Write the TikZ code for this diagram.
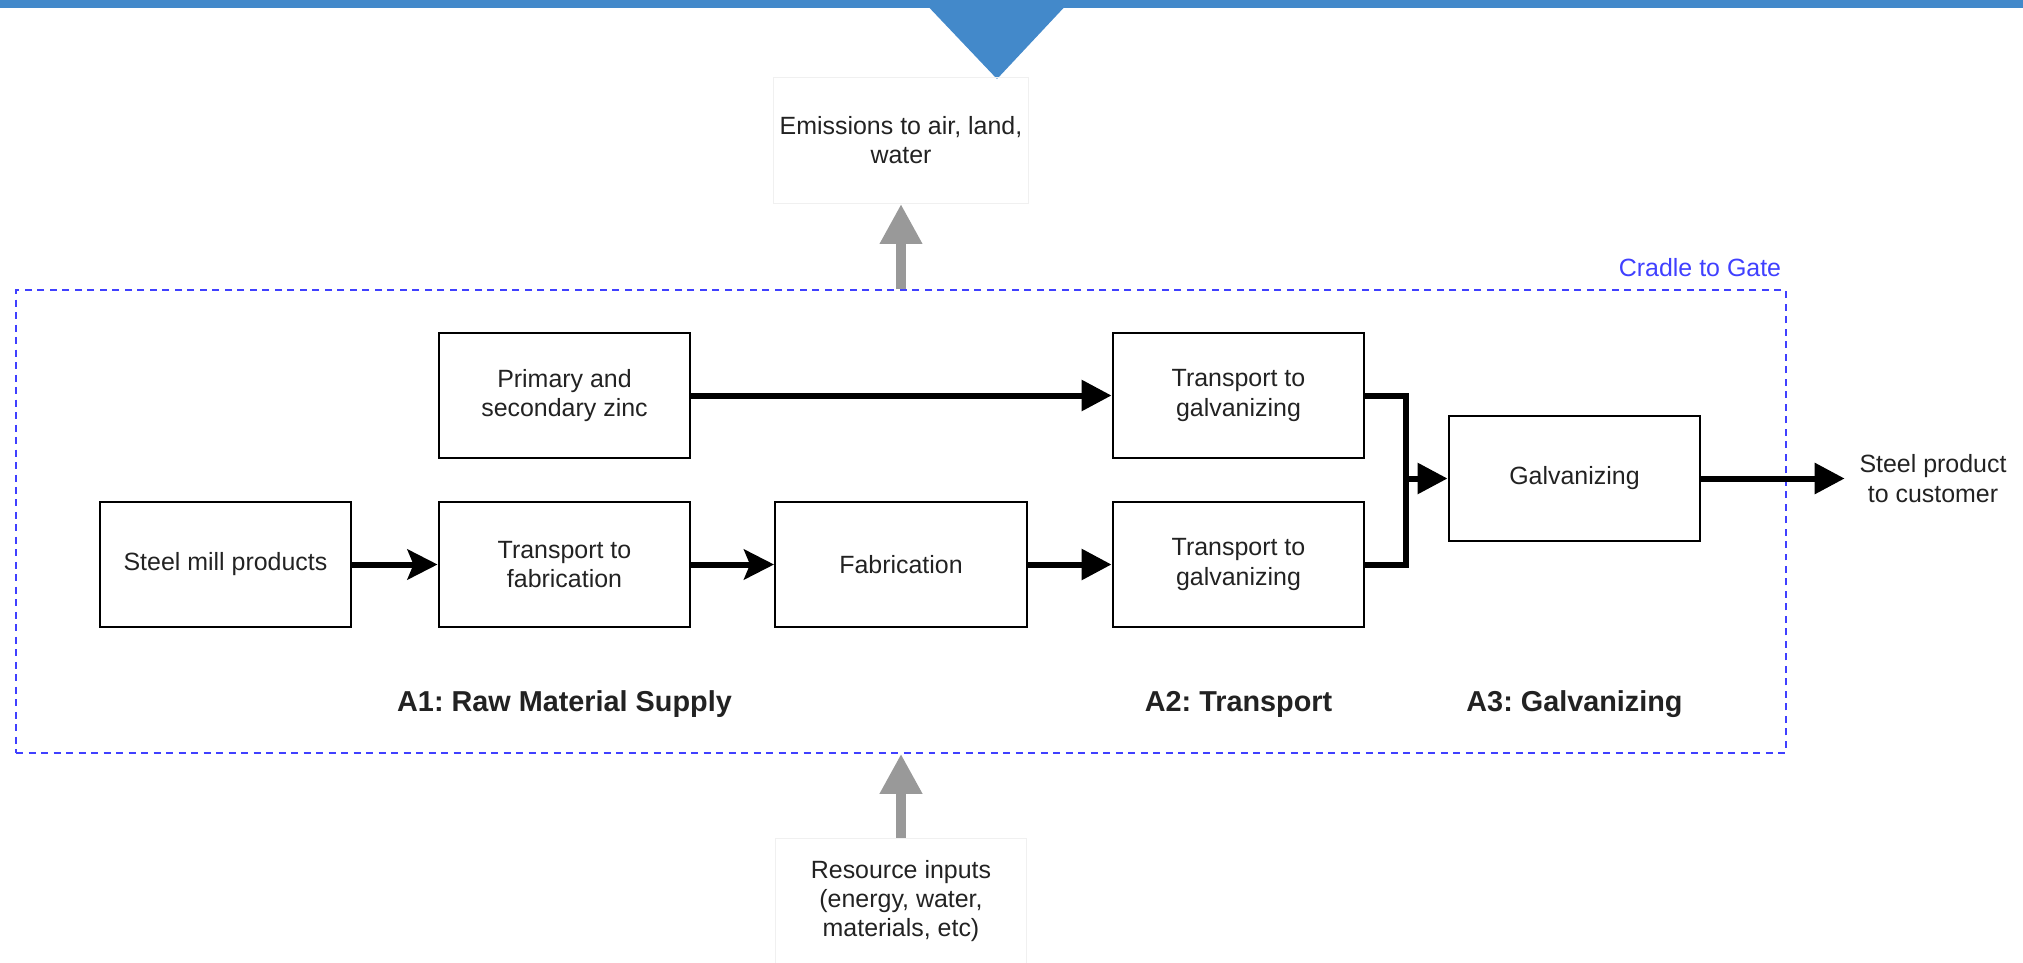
\documentclass[tikz,border=0pt]{standalone}
\usepackage{fontspec}
\setmainfont{Liberation Sans}
\frenchspacing
\usetikzlibrary{arrows.meta}
\definecolor{bandeau}{RGB}{67,137,202}
\definecolor{bleucadre}{RGB}{64,64,255}
\definecolor{gris}{RGB}{153,153,153}
\definecolor{texte}{RGB}{34,34,34}

\begin{document}
\begin{tikzpicture}[x=0.02cm, y=-0.02cm]
\tikzset{bloc/.style={draw, line width=0.04cm, minimum width=5.04cm, minimum height=2.52cm, align=center, text=texte, font=\fontsize{14.2pt}{16.6pt}\selectfont},
  boitepale/.style={bloc, draw=black!6, line width=0.02cm},
  fleche/.style={line width=0.12cm, -{Triangle[length=0.6cm, width=0.6cm]}},
  flecheclassique/.style={line width=0.12cm, -{Stealth[length=0.6cm, width=0.6cm, inset=0.12cm]}},
  flechegrise/.style={draw=gris, line width=0.2cm, -{Triangle[length=0.8cm, width=0.8cm]}},
  cadre/.style={draw=bleucadre, line width=0.035cm, dash pattern=on 0.14cm off 0.11cm, minimum width=35.4cm, minimum height=9.26cm},
  etape/.style={text=texte, font=\bfseries\fontsize{16.4pt}{19pt}\selectfont}}
\useasboundingbox (0,0) rectangle (2023,963);
\fill[bandeau] (0,0) rectangle (2023,8);
\fill[bandeau] (922,0) -- (1071,0) -- (997,79) -- cycle;
\node[cadre] (gate) at (901,521.5) {};
\node[text=bleucadre, font=\fontsize{14.2pt}{16.6pt}\selectfont] (cradle) at (1700,268) {Cradle to Gate};
\node[boitepale] (emis) at (901,140.5) {Emissions to air, land,\\water};
\node[boitepale] (res) at (901,901) {Resource inputs\\(energy, water,\\materials, etc)};
\node[bloc] (zinc) at (564.5,395.5) {Primary and\\secondary zinc};
\node[bloc] (mill) at (225.5,564.5) {Steel mill products};
\node[bloc] (tfab) at (564.5,564.5) {Transport to\\fabrication};
\node[bloc] (fab) at (901,564.5) {Fabrication};
\node[bloc] (tgal1) at (1238.5,395.5) {Transport to\\galvanizing};
\node[bloc] (tgal2) at (1238.5,564.5) {Transport to\\galvanizing};
\node[bloc] (galv) at (1574.5,478.5) {Galvanizing};
\node[align=center, outer sep=0.18cm, text=texte, font=\fontsize{14.2pt}{16.6pt}\selectfont] (client) at (1933,478.5) {Steel product\\to customer};
\node[etape] (A1) at (564.5,704) {A1: Raw Material Supply};
\node[etape] (A2) at (1238.5,704) {A2: Transport};
\node[etape] (A3) at (1574.5,704) {A3: Galvanizing};
\coordinate (jonction) at (1406,478.5);
\draw[flechegrise] (gate.north) -- (emis);
\draw[flechegrise] (res) -- (gate.south);
\draw[flecheclassique] (mill) -- (tfab);
\draw[flecheclassique] (tfab) -- (fab);
\draw[fleche] (fab) -- (tgal2);
\draw[fleche] (zinc) -- (tgal1);
\draw[line width=0.12cm] (tgal1.east) -| (jonction) |- (tgal2.east);
\draw[fleche] (jonction) -- (galv);
\draw[fleche] (galv) -- (client);
\end{tikzpicture}
\end{document}
